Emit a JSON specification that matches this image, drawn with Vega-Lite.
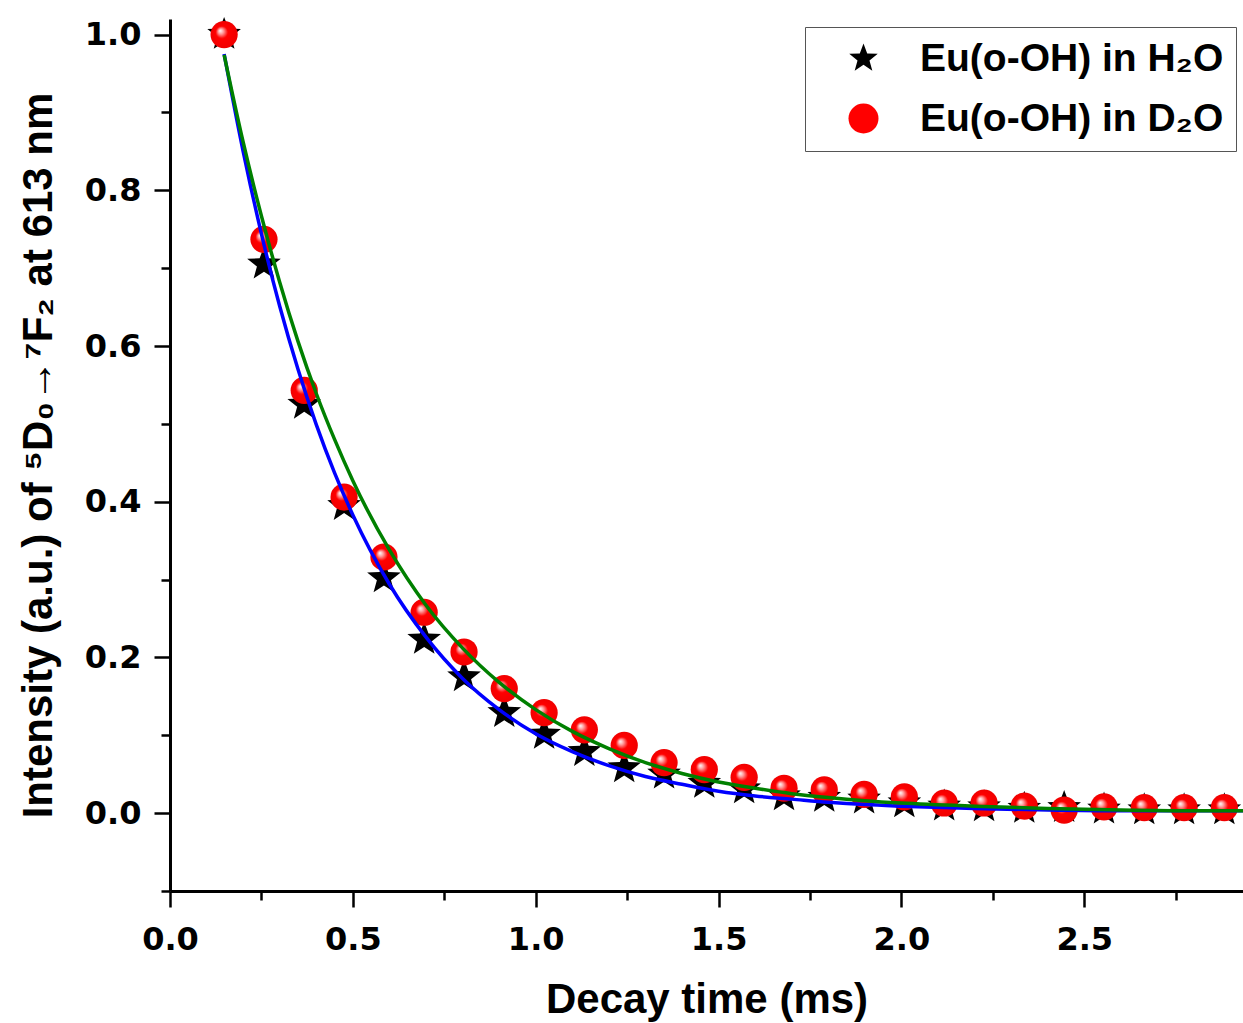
{
  "$schema": "https://vega.github.io/schema/vega-lite/v6.json",
  "autosize": {"type": "none"},
  "padding": {"left": 170, "top": 19, "right": 0, "bottom": 132},
  "width": 1073,
  "height": 872,
  "background": "white",
  "config": {
    "view": {"stroke": null},
    "axis": {
      "domainColor": "black", "domainWidth": 3, "tickColor": "black", "tickWidth": 2.5,
      "grid": false, "labelColor": "black", "titleColor": "black",
      "labelFont": "DejaVu Sans", "labelFontWeight": "bold", "labelFontSize": 32,
      "titleFont": "Liberation Sans", "titleFontWeight": "bold", "titleFontSize": 42
    }
  },
  "datasets": {
    "pts": [
      {"t": 0.148, "I": 1.000, "s": "Eu(o-OH) in H₂O"},
      {"t": 0.257, "I": 0.705, "s": "Eu(o-OH) in H₂O"},
      {"t": 0.367, "I": 0.525, "s": "Eu(o-OH) in H₂O"},
      {"t": 0.476, "I": 0.395, "s": "Eu(o-OH) in H₂O"},
      {"t": 0.585, "I": 0.302, "s": "Eu(o-OH) in H₂O"},
      {"t": 0.695, "I": 0.223, "s": "Eu(o-OH) in H₂O"},
      {"t": 0.804, "I": 0.175, "s": "Eu(o-OH) in H₂O"},
      {"t": 0.914, "I": 0.129, "s": "Eu(o-OH) in H₂O"},
      {"t": 1.023, "I": 0.101, "s": "Eu(o-OH) in H₂O"},
      {"t": 1.133, "I": 0.079, "s": "Eu(o-OH) in H₂O"},
      {"t": 1.242, "I": 0.058, "s": "Eu(o-OH) in H₂O"},
      {"t": 1.351, "I": 0.050, "s": "Eu(o-OH) in H₂O"},
      {"t": 1.461, "I": 0.038, "s": "Eu(o-OH) in H₂O"},
      {"t": 1.570, "I": 0.031, "s": "Eu(o-OH) in H₂O"},
      {"t": 1.679, "I": 0.022, "s": "Eu(o-OH) in H₂O"},
      {"t": 1.789, "I": 0.020, "s": "Eu(o-OH) in H₂O"},
      {"t": 1.898, "I": 0.018, "s": "Eu(o-OH) in H₂O"},
      {"t": 2.008, "I": 0.013, "s": "Eu(o-OH) in H₂O"},
      {"t": 2.117, "I": 0.009, "s": "Eu(o-OH) in H₂O"},
      {"t": 2.226, "I": 0.008, "s": "Eu(o-OH) in H₂O"},
      {"t": 2.336, "I": 0.006, "s": "Eu(o-OH) in H₂O"},
      {"t": 2.445, "I": 0.007, "s": "Eu(o-OH) in H₂O"},
      {"t": 2.554, "I": 0.005, "s": "Eu(o-OH) in H₂O"},
      {"t": 2.664, "I": 0.004, "s": "Eu(o-OH) in H₂O"},
      {"t": 2.773, "I": 0.004, "s": "Eu(o-OH) in H₂O"},
      {"t": 2.883, "I": 0.004, "s": "Eu(o-OH) in H₂O"}
    ],
    "ptsD": [
      {"t": 0.148, "I": 1.000, "s": "Eu(o-OH) in D₂O"},
      {"t": 0.257, "I": 0.737, "s": "Eu(o-OH) in D₂O"},
      {"t": 0.367, "I": 0.543, "s": "Eu(o-OH) in D₂O"},
      {"t": 0.476, "I": 0.406, "s": "Eu(o-OH) in D₂O"},
      {"t": 0.585, "I": 0.329, "s": "Eu(o-OH) in D₂O"},
      {"t": 0.695, "I": 0.258, "s": "Eu(o-OH) in D₂O"},
      {"t": 0.804, "I": 0.207, "s": "Eu(o-OH) in D₂O"},
      {"t": 0.914, "I": 0.160, "s": "Eu(o-OH) in D₂O"},
      {"t": 1.023, "I": 0.129, "s": "Eu(o-OH) in D₂O"},
      {"t": 1.133, "I": 0.107, "s": "Eu(o-OH) in D₂O"},
      {"t": 1.242, "I": 0.087, "s": "Eu(o-OH) in D₂O"},
      {"t": 1.351, "I": 0.065, "s": "Eu(o-OH) in D₂O"},
      {"t": 1.461, "I": 0.056, "s": "Eu(o-OH) in D₂O"},
      {"t": 1.570, "I": 0.046, "s": "Eu(o-OH) in D₂O"},
      {"t": 1.679, "I": 0.032, "s": "Eu(o-OH) in D₂O"},
      {"t": 1.789, "I": 0.030, "s": "Eu(o-OH) in D₂O"},
      {"t": 1.898, "I": 0.024, "s": "Eu(o-OH) in D₂O"},
      {"t": 2.008, "I": 0.021, "s": "Eu(o-OH) in D₂O"},
      {"t": 2.117, "I": 0.013, "s": "Eu(o-OH) in D₂O"},
      {"t": 2.226, "I": 0.013, "s": "Eu(o-OH) in D₂O"},
      {"t": 2.336, "I": 0.009, "s": "Eu(o-OH) in D₂O"},
      {"t": 2.445, "I": 0.004, "s": "Eu(o-OH) in D₂O"},
      {"t": 2.554, "I": 0.008, "s": "Eu(o-OH) in D₂O"},
      {"t": 2.664, "I": 0.007, "s": "Eu(o-OH) in D₂O"},
      {"t": 2.773, "I": 0.007, "s": "Eu(o-OH) in D₂O"},
      {"t": 2.883, "I": 0.007, "s": "Eu(o-OH) in D₂O"}
    ],
    "fitH": [
      {"t": 0.148, "I": 0.975}, {"t": 0.2, "I": 0.850}, {"t": 0.25, "I": 0.744}, {"t": 0.3, "I": 0.651},
      {"t": 0.35, "I": 0.570}, {"t": 0.4, "I": 0.499}, {"t": 0.45, "I": 0.437}, {"t": 0.5, "I": 0.383},
      {"t": 0.6, "I": 0.294}, {"t": 0.7, "I": 0.226}, {"t": 0.8, "I": 0.173}, {"t": 0.9, "I": 0.133},
      {"t": 1.0, "I": 0.102}, {"t": 1.1, "I": 0.079}, {"t": 1.2, "I": 0.061}, {"t": 1.3, "I": 0.047},
      {"t": 1.4, "I": 0.037}, {"t": 1.5, "I": 0.028}, {"t": 1.6, "I": 0.022}, {"t": 1.7, "I": 0.018},
      {"t": 1.8, "I": 0.014}, {"t": 1.9, "I": 0.011}, {"t": 2.0, "I": 0.009}, {"t": 2.2, "I": 0.006},
      {"t": 2.4, "I": 0.004}, {"t": 2.6, "I": 0.003}, {"t": 2.8, "I": 0.003}, {"t": 2.934, "I": 0.003}
    ],
    "fitD": [
      {"t": 0.148, "I": 0.974}, {"t": 0.2, "I": 0.862}, {"t": 0.25, "I": 0.767}, {"t": 0.3, "I": 0.682},
      {"t": 0.35, "I": 0.606}, {"t": 0.4, "I": 0.539}, {"t": 0.45, "I": 0.480}, {"t": 0.5, "I": 0.427},
      {"t": 0.6, "I": 0.338}, {"t": 0.7, "I": 0.267}, {"t": 0.8, "I": 0.212}, {"t": 0.9, "I": 0.168},
      {"t": 1.0, "I": 0.133}, {"t": 1.1, "I": 0.105}, {"t": 1.2, "I": 0.083}, {"t": 1.3, "I": 0.065},
      {"t": 1.4, "I": 0.051}, {"t": 1.5, "I": 0.040}, {"t": 1.6, "I": 0.032}, {"t": 1.7, "I": 0.025},
      {"t": 1.8, "I": 0.020}, {"t": 1.9, "I": 0.016}, {"t": 2.0, "I": 0.013}, {"t": 2.2, "I": 0.009},
      {"t": 2.4, "I": 0.006}, {"t": 2.6, "I": 0.004}, {"t": 2.8, "I": 0.003}, {"t": 2.934, "I": 0.003}
    ]
  },
  "encoding": {
    "x": {
      "field": "t", "type": "quantitative",
      "scale": {"domain": [0, 2.934], "nice": false, "zero": false},
      "axis": {
        "title": "Decay time (ms)",
        "values": [0, 0.25, 0.5, 0.75, 1.0, 1.25, 1.5, 1.75, 2.0, 2.25, 2.5, 2.75],
        "labelExpr": "round(datum.value*4) % 2 == 0 ? format(datum.value, '.1f') : ''",
        "tickSize": {"condition": {"test": "round(datum.value*4) % 2 == 0", "value": 16}, "value": 9},
        "labelPadding": 17,
        "titlePadding": 24,
        "labelFlush": false
      }
    },
    "y": {
      "field": "I", "type": "quantitative",
      "scale": {"domain": [-0.1, 1.02], "nice": false, "zero": false},
      "axis": {
        "title": "Intensity (a.u.) of ⁵D₀→⁷F₂ at 613 nm",
        "values": [-0.1, 0, 0.1, 0.2, 0.3, 0.4, 0.5, 0.6, 0.7, 0.8, 0.9, 1.0],
        "labelExpr": "abs(round(datum.value*10)) % 2 == 0 ? format(datum.value, '.1f') : ''",
        "tickSize": {"condition": {"test": "abs(round(datum.value*10)) % 2 == 0", "value": 16}, "value": 9},
        "labelPadding": 13,
        "titlePadding": 24,
        "labelFlush": false
      }
    }
  },
  "layer": [
    {
      "data": {"name": "pts"},
      "mark": {"type": "point", "filled": true, "size": 1250, "opacity": 1, "strokeWidth": 0},
      "encoding": {
        "shape": {
          "field": "s", "type": "nominal",
          "scale": {
            "domain": ["Eu(o-OH) in H₂O", "Eu(o-OH) in D₂O"],
            "range": ["M0,-1 L0.247,-0.34 L0.951,-0.309 L0.399,0.13 L0.588,0.809 L0,0.42 L-0.588,0.809 L-0.399,0.13 L-0.951,-0.309 L-0.247,-0.34 Z", "circle"]
          },
          "legend": {
            "title": null, "orient": "none", "legendX": 635, "legendY": 8,
            "padding": 12, "strokeColor": "#555555", "fillColor": "white",
            "symbolSize": 900, "symbolOffset": 27, "labelOffset": 37, "rowPadding": 20,
            "labelFont": "Liberation Sans", "labelFontWeight": "bold", "labelFontSize": 39,
            "labelLimit": 600, "labelColor": "black", "symbolStrokeWidth": 0
          }
        },
        "color": {
          "field": "s", "type": "nominal",
          "scale": {"domain": ["Eu(o-OH) in H₂O", "Eu(o-OH) in D₂O"], "range": ["black", "red"]}
        }
      }
    },
    {
      "data": {"name": "ptsD"},
      "mark": {
        "type": "point", "shape": "circle", "filled": true, "size": 740, "opacity": 1, "strokeWidth": 0,
        "fill": {"gradient": "radial", "x1": 0.35, "y1": 0.35, "r1": 0, "x2": 0.5, "y2": 0.5, "r2": 0.5,
          "stops": [{"offset": 0, "color": "#ffffff"}, {"offset": 0.2, "color": "#ff9a9a"}, {"offset": 0.45, "color": "#ff0000"}, {"offset": 1, "color": "#f00000"}]}
      }
    },
    {
      "data": {"name": "fitH"},
      "mark": {"type": "line", "color": "#0000ff", "strokeWidth": 3.5, "interpolate": "monotone"}
    },
    {
      "data": {"name": "fitD"},
      "mark": {"type": "line", "color": "#008000", "strokeWidth": 3.5, "interpolate": "monotone"}
    }
  ]
}
